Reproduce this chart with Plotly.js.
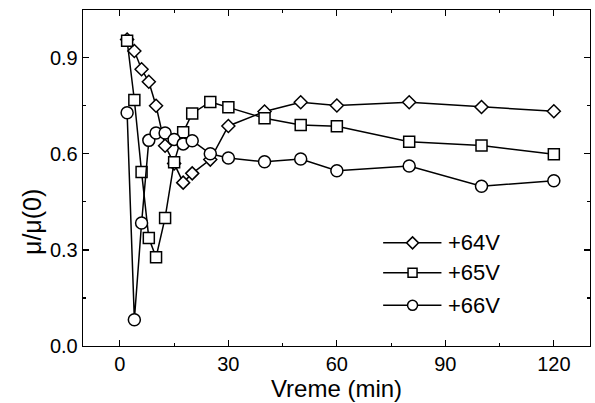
<!DOCTYPE html>
<html>
<head>
<meta charset="utf-8">
<script src="https://cdn.plot.ly/plotly-3.0.1.min.js"></script>
<style>html,body{margin:0;padding:0;background:#fff;}#chart{width:595px;height:403px;}</style>
</head>
<body>
<div id="chart"></div>
<script>
// Time (min)
const time = [2, 4, 6, 8, 10, 12.5, 15, 17.5, 20, 25, 30, 40, 50, 60, 80, 100, 120];
// mu/mu(0) for each bias voltage
const v64 = [0.957, 0.921, 0.864, 0.825, 0.750, 0.625, 0.570, 0.510, 0.539, 0.582, 0.687, 0.732, 0.761, 0.751, 0.761, 0.746, 0.733];
const v65 = [0.953, 0.768, 0.543, 0.337, 0.277, 0.400, 0.574, 0.667, 0.726, 0.762, 0.745, 0.711, 0.690, 0.686, 0.638, 0.626, 0.599];
const v66 = [0.728, 0.082, 0.384, 0.642, 0.665, 0.665, 0.645, 0.631, 0.641, 0.600, 0.587, 0.575, 0.584, 0.547, 0.562, 0.499, 0.516];
const seriesNames = ['+64V', '+65V', '+66V'];
const xTicks = [0, 30, 60, 90, 120];
const yTicks = [0.0, 0.3, 0.6, 0.9];
const yTickText = ['0.0', '0.3', '0.6', '0.9'];

const FONT = 'Liberation Sans, Arial, Helvetica, sans-serif';
const seriesY = [v64, v65, v66];
const symbols = ['diamond', 'square', 'circle'];
const sizes = [10, 11, 12];

const traces = seriesY.map((ys, i) => ({
  x: time, y: ys, name: seriesNames[i], type: 'scatter', mode: 'lines+markers',
  line: {color: '#000', width: 1.5},
  marker: {symbol: symbols[i], size: sizes[i], color: '#fff', line: {color: '#000', width: 1.5}},
  showlegend: false
}));

// custom legend (paper coordinates)
const legY = [0.307, 0.218, 0.121];
const shapes = [];
const annotations = [];
const legShapes = [
  {type: 'path', path: 'M-6,0L0,6L6,0L0,-6Z'},
  {type: 'rect', x0: -4.5, x1: 4.5, y0: -4.5, y1: 4.5},
  {type: 'circle', x0: -5, x1: 5, y0: -5, y1: 5}
];
legY.forEach((yy, i) => {
  shapes.push({type: 'line', xref: 'paper', yref: 'paper', x0: 0.592, x1: 0.707, y0: yy, y1: yy,
    line: {color: '#000', width: 1.5}, layer: 'above'});
  shapes.push(Object.assign({xref: 'paper', yref: 'paper', xsizemode: 'pixel', ysizemode: 'pixel',
    xanchor: 0.650, yanchor: yy, fillcolor: '#fff', line: {color: '#000', width: 1.5}, layer: 'above'}, legShapes[i]));
  annotations.push({xref: 'paper', yref: 'paper', x: 0.716, y: yy, xanchor: 'left', yanchor: 'middle',
    text: seriesNames[i], showarrow: false, font: {family: FONT, size: 22, color: '#000'}});
});
annotations.push({xref: 'paper', yref: 'paper', x: 0, xshift: -51, y: 0.369, xanchor: 'center', yanchor: 'middle',
  textangle: -90, text: 'μ/μ(0)', showarrow: false, font: {family: FONT, size: 25, color: '#000'}});

const layout = {
  width: 595, height: 403,
  margin: {l: 83, r: 5, t: 10, b: 57},
  paper_bgcolor: '#fff', plot_bgcolor: '#fff',
  font: {family: FONT, color: '#000'},
  xaxis: {
    range: [-10.2, 130], tickvals: xTicks, ticks: 'inside', ticklen: 6, tickwidth: 1.2, tickcolor: '#000',
    showline: true, linecolor: '#000', linewidth: 1.3, mirror: 'ticks', showgrid: false, zeroline: false,
    tickfont: {family: FONT, size: 20, color: '#000'},
    minor: {tickvals: [15, 45, 75, 105], ticks: 'inside', ticklen: 3, tickwidth: 1.2, tickcolor: '#000', showgrid: false},
    title: {text: 'Vreme (min)', font: {family: FONT, size: 24, color: '#000'}, standoff: 4}
  },
  yaxis: {
    range: [0, 1.049], tickvals: yTicks, ticktext: yTickText, ticks: 'inside', ticklen: 6, tickwidth: 1.2, tickcolor: '#000',
    showline: true, linecolor: '#000', linewidth: 1.3, mirror: 'ticks', showgrid: false, zeroline: false,
    tickfont: {family: FONT, size: 20, color: '#000'},
    minor: {tickvals: [0.15, 0.45, 0.75], ticks: 'inside', ticklen: 3, tickwidth: 1.2, tickcolor: '#000', showgrid: false}
  },
  shapes: shapes,
  annotations: annotations,
  showlegend: false
};

Plotly.newPlot('chart', traces, layout, {displayModeBar: false, staticPlot: true});
</script>
</body>
</html>
